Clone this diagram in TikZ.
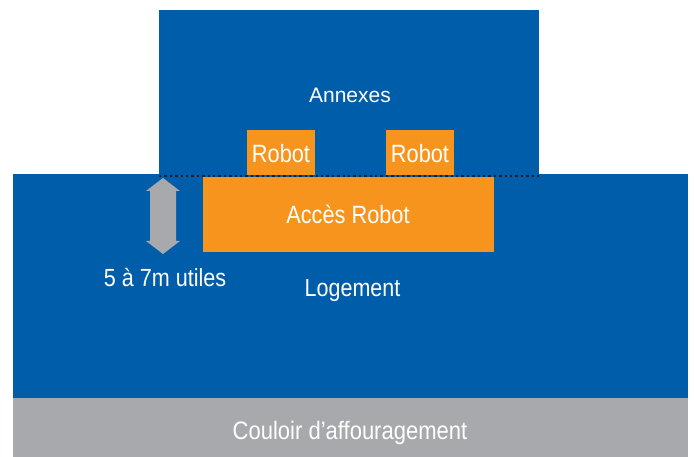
\documentclass[tikz,border=0pt]{standalone}
\usepackage{fontspec}
\setmainfont{Liberation Sans}
\newfontfamily\narrowsans[FakeStretch=0.87]{Liberation Sans}
\definecolor{plan blue}{RGB}{0,93,170}
\definecolor{plan orange}{RGB}{247,148,29}
\definecolor{plan gray}{RGB}{167,169,172}
\definecolor{plan dark}{RGB}{35,31,32}
\tikzset{
  zone/.style={draw=none, fill=plan blue, inner sep=0pt, outer sep=0pt},
  robotzone/.style={draw=none, fill=plan orange, inner sep=0pt, outer sep=0pt},
  corridor/.style={draw=none, fill=plan gray, inner sep=0pt, outer sep=0pt},
  caption/.style={text=white, inner sep=0pt, anchor=base},
  narrowtext/.style={font=\narrowsans\fontsize{#1}{#1}\selectfont},
}
\begin{document}
\begin{tikzpicture}[x=1pt, y=-1pt]
  \useasboundingbox (0,0) rectangle (694,457);
  % buildings
  \node[zone, minimum width=675pt, minimum height=224pt] (logement) at (350.5,286) {};
  \node[zone, minimum width=380pt, minimum height=166pt] (annexes) at (349,93) {};
  \node[corridor, minimum width=675pt, minimum height=59pt] (couloir) at (350.5,427.5) {};
  % boundary between the annexes and the housing
  \coordinate (limL) at (159,175.8);
  \coordinate (limR) at (539,175.8);
  \draw[plan dark, line width=2.4pt, dash pattern=on 2.4pt off 3pt] (limL) -- (limR);
  % robot areas
  \node[robotzone, minimum width=68pt, minimum height=45pt] (robot1) at (281,152.5) {};
  \node[robotzone, minimum width=68pt, minimum height=45pt] (robot2) at (420,152.5) {};
  \node[robotzone, minimum width=291pt, minimum height=75pt] (acces) at (348.5,214.5) {};
  % labels
  \node[caption, font=\fontsize{21}{21}\selectfont] (tAnnexes) at (350,102.7) {Annexes};
  \node[caption, narrowtext=25] (tRobot1) at (281,162.3) {Robot};
  \node[caption, narrowtext=25] (tRobot2) at (420,162.3) {Robot};
  \node[caption, narrowtext=25] (tAcces) at (348,223.3) {Accès Robot};
  \node[caption, narrowtext=24.7] (tLogement) at (352.5,296.7) {Logement};
  \node[caption, narrowtext=24.8] (tUtiles) at (165,286.7) {5 à 7m utiles};
  \node[caption, narrowtext=25.3] (tCouloir) at (350,439.3) {Couloir d’affouragement};
  % height marker
  \fill[plan gray] (163,178) -- (180,191) -- (176,191) -- (176,241) -- (180,241)
    -- (163,254) -- (146,241) -- (150,241) -- (150,191) -- (146,191) -- cycle;
\end{tikzpicture}
\end{document}
